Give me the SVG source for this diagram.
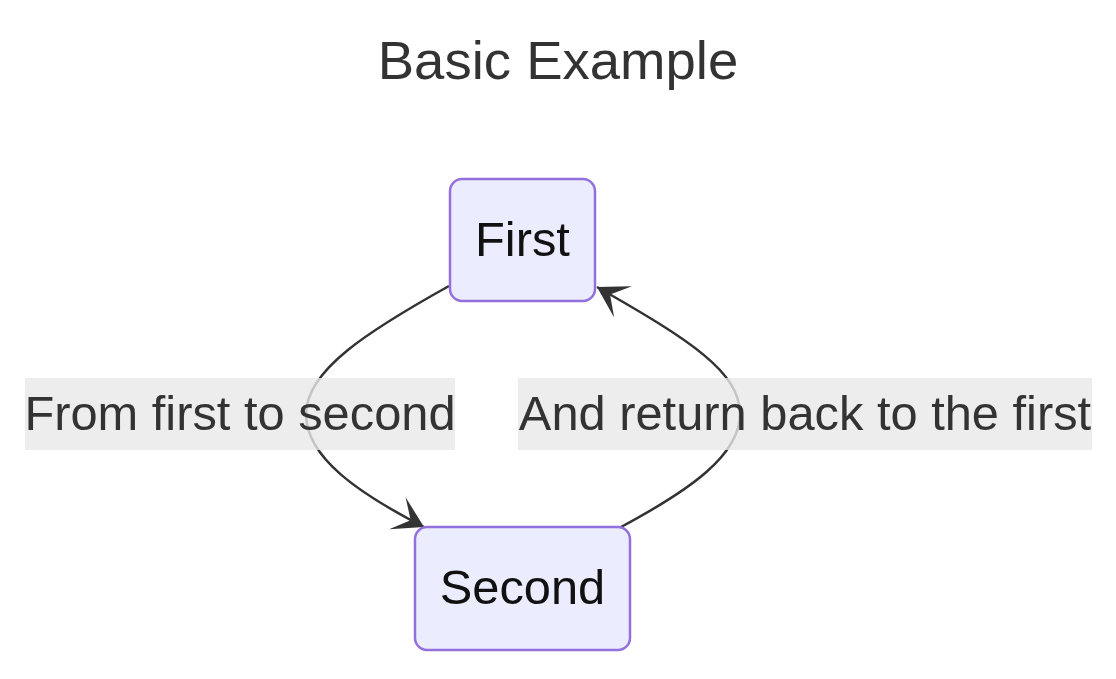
<svg xmlns="http://www.w3.org/2000/svg" width="1116" height="679" viewBox="0 0 1116 679">
<style>
.node rect{fill:#ECECFF;stroke:#9370DB;stroke-width:2.5}
.node text{font-family:"Liberation Sans",Arial,sans-serif;font-size:48.8px;fill:#111;text-anchor:middle}
.edge{fill:none;stroke:#333;stroke-width:2.5}
.lbl rect{fill:#e8e8e8;opacity:0.8}
.lbl text{font-family:"Liberation Sans",Arial,sans-serif;font-size:48.8px;fill:#333;text-anchor:middle}
.title{font-family:"Liberation Sans",Arial,sans-serif;font-size:54.5px;fill:#333;text-anchor:middle}
</style>
<defs>
<marker id="barb" viewBox="0 0 20 14" refX="19" refY="7" markerWidth="60" markerHeight="42" markerUnits="userSpaceOnUse" orient="auto">
<path d="M19,7 L9,13 L14,7 L9,1 Z" fill="#333"/>
</marker>
</defs>
<rect width="1116" height="679" fill="#fff"/>
<text class="title" x="558" y="79">Basic Example</text>
<g id="connectors">
<path class="edge" d="M449,286 C370,330 306,370 306,414 C306,458 360,494 424,527" marker-end="url(#barb)"/>
<path class="edge" d="M621,527 C690,490 740,455 740,414 C740,372 690,340 597,287" marker-end="url(#barb)"/>
</g>
<g id="label1" class="lbl">
<rect x="25" y="378" width="430" height="72"/>
<text x="240" y="430">From first to second</text>
</g>
<g id="label2" class="lbl">
<rect x="518" y="378" width="574" height="72"/>
<text x="805" y="430">And return back to the first</text>
</g>
<g id="first" class="node">
<rect x="450" y="179" width="145" height="122" rx="12"/>
<text x="522.5" y="256">First</text>
</g>
<g id="second" class="node">
<rect x="415" y="527" width="215" height="123" rx="12"/>
<text x="522.5" y="604">Second</text>
</g>
</svg>
